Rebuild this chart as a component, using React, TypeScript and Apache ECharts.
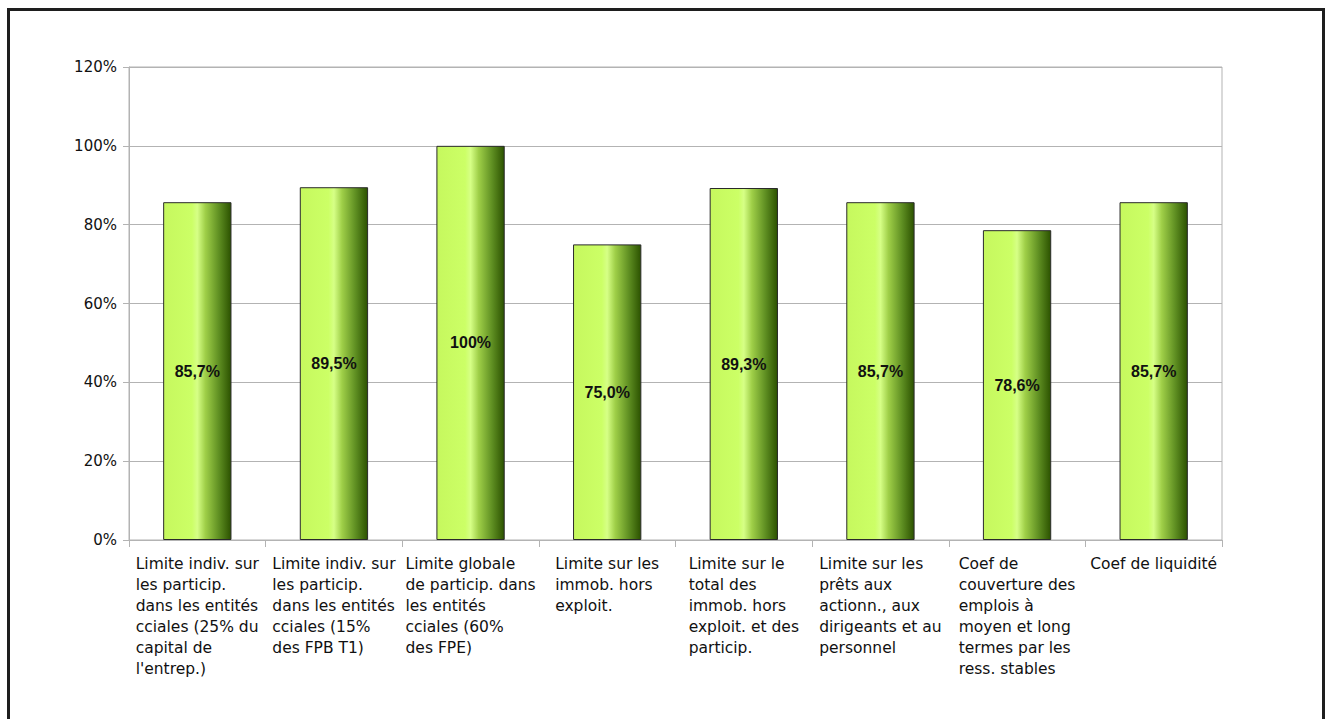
import React, { useEffect, useRef } from "react";
import * as echarts from "echarts";

const categories = [
  "Limite indiv. sur\nles particip.\ndans les entités\ncciales (25% du\ncapital de\nl'entrep.)",
  "Limite indiv. sur\nles particip.\ndans les entités\ncciales (15%\ndes FPB T1)",
  "Limite globale\nde particip. dans\nles entités\ncciales (60%\ndes FPE)",
  "Limite sur les\nimmob. hors\nexploit.",
  "Limite sur le\ntotal des\nimmob. hors\nexploit. et des\nparticip.",
  "Limite sur les\nprêts aux\nactionn., aux\ndirigeants et au\npersonnel",
  "Coef de\ncouverture des\nemplois à\nmoyen et long\ntermes par les\nress. stables",
  "Coef de liquidité",
];

const values = [85.7, 89.5, 100, 75.0, 89.3, 85.7, 78.6, 85.7];
const valueLabels = ["85,7%", "89,5%", "100%", "75,0%", "89,3%", "85,7%", "78,6%", "85,7%"];
const yTicks = [0, 20, 40, 60, 80, 100, 120];

export default function App() {
  const ref = useRef<HTMLDivElement>(null);
  useEffect(() => {
    if (!ref.current) return;
    const chart = echarts.init(ref.current, null, { renderer: "svg" });
    const barGradient = new echarts.graphic.LinearGradient(0, 0, 1, 0, [
      { offset: 0, color: "#c6f85e" },
      { offset: 0.42, color: "#ccff66" },
      { offset: 0.5, color: "#d6ff86" },
      { offset: 0.62, color: "#9fcf48" },
      { offset: 0.82, color: "#5f8f22" },
      { offset: 1, color: "#2c5200" },
    ]);
    chart.setOption({
      animation: false,
      backgroundColor: "#ffffff",
      graphic: [
        {
          type: "rect",
          shape: { x: 8.5, y: 9.5, width: 1315, height: 740 },
          style: { fill: "none", stroke: "#1e1e1e", lineWidth: 3 },
          silent: true,
        },
      ],
      grid: {
        left: 129,
        top: 67,
        width: 1093,
        height: 473,
        show: true,
        borderColor: "#b3b3b3",
        borderWidth: 1,
      },
      xAxis: {
        type: "category",
        data: categories,
        axisLine: { show: true, lineStyle: { color: "#b3b3b3", width: 1 } },
        axisTick: { show: true, length: 7, alignWithLabel: false, lineStyle: { color: "#b3b3b3" } },
        axisLabel: {
          interval: 0,
          margin: 13,
          color: "#111",
          fontFamily: "DejaVu Sans",
          fontSize: 15.5,
          lineHeight: 21,
          formatter: (v: string) => "{a|" + v + "}",
          rich: {
            a: {
              align: "left",
              fontFamily: "DejaVu Sans",
              fontSize: 15.5,
              lineHeight: 21,
              color: "#111",
            },
          },
        },
      },
      yAxis: {
        type: "value",
        min: yTicks[0],
        max: yTicks[yTicks.length - 1],
        interval: 20,
        axisLine: { show: true, lineStyle: { color: "#b3b3b3", width: 1 } },
        axisTick: { show: true, length: 6, lineStyle: { color: "#b3b3b3" } },
        splitLine: { show: true, lineStyle: { color: "#b3b3b3", width: 1 } },
        axisLabel: {
          margin: 12,
          color: "#111",
          fontFamily: "DejaVu Sans",
          fontSize: 15,
          formatter: (v: number) => v + "%",
        },
      },
      series: [
        {
          type: "bar",
          data: values,
          barWidth: "50%",
          itemStyle: { color: barGradient, borderColor: "#2a2a2a", borderWidth: 1 },
          label: {
            show: true,
            position: "inside",
            color: "#111",
            fontFamily: "Liberation Sans",
            fontWeight: "bold",
            fontSize: 16,
            formatter: (p: any) => valueLabels[p.dataIndex],
          },
        },
      ],
    });
    return () => chart.dispose();
  }, []);
  return (
    <div
      ref={ref}
      style={{ position: "fixed", left: 0, top: 0, width: 1326, height: 719 }}
    />
  );
}
